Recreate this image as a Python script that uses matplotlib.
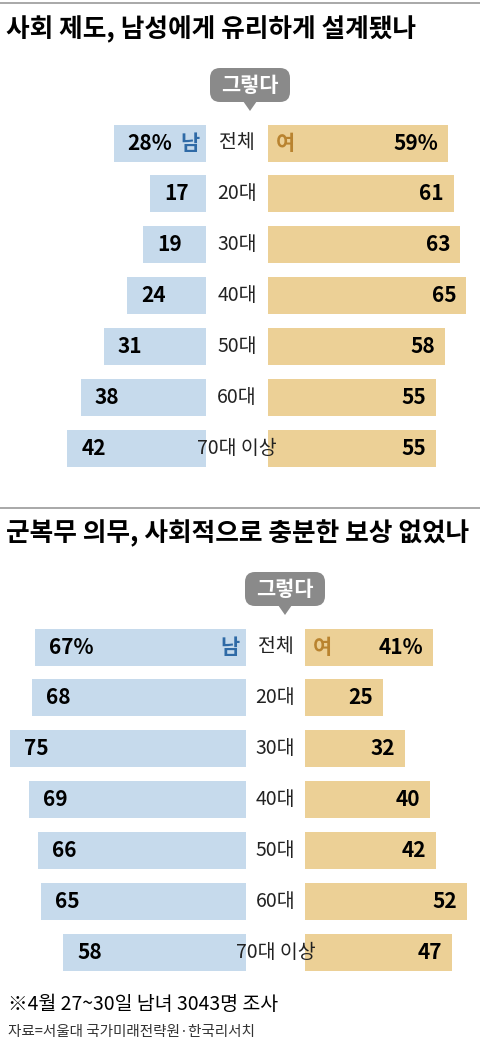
import matplotlib.pyplot as plt
from matplotlib.patches import FancyBboxPatch, Polygon

plt.rcParams['font.family'] = ['Noto Sans CJK KR', 'DejaVu Sans']

groups = ['전체', '20대', '30대', '40대', '50대', '60대', '70대 이상']
title1 = '사회 제도, 남성에게 유리하게 설계됐나'
men1 = [28, 17, 19, 24, 31, 38, 42]
women1 = [59, 61, 63, 65, 58, 55, 55]
title2 = '군복무 의무, 사회적으로 충분한 보상 없었나'
men2 = [67, 68, 75, 69, 66, 65, 58]
women2 = [41, 25, 32, 40, 42, 52, 47]

BLUE = '#c6daec'
TAN = '#ecd096'
MAN_C = '#2f6aa6'
WOMAN_C = '#b9832f'

fig = plt.figure(figsize=(4.8, 10.51), dpi=100)
ax = fig.add_axes([0, 0, 1, 1])
ax.set_xlim(0, 480)
ax.set_ylim(1051, 0)
ax.axis('off')


def bubble(cx, cy):
    w, h = 80, 34
    ax.add_patch(FancyBboxPatch((cx - w / 2, cy - h / 2), w, h,
                                boxstyle='round,pad=0,rounding_size=10',
                                fc='#8a8a8a', ec='none'))
    ax.add_patch(Polygon([(cx - 7, cy + h / 2 - 1), (cx + 7, cy + h / 2 - 1),
                          (cx, cy + h / 2 + 9)], fc='#8a8a8a', ec='none'))
    ax.text(cx, cy, '그렇다', color='white', fontsize=15, fontweight='bold',
            ha='center', va='center')


def panel(title, men, women, y0, lend, rstart, bx, ls, rs):
    ax.text(6, y0, title, fontsize=18.5, fontweight='bold', va='center')
    bubble(bx, y0 + 55)
    ys = [y0 + 113 + 50.9 * i for i in range(len(groups))]
    ax.barh(ys, [-m * ls for m in men], left=lend, height=37, color=BLUE)
    ax.barh(ys, [w * rs for w in women], left=rstart, height=37, color=TAN)
    mid = (lend + rstart) / 2
    for i, (y, g, m, w) in enumerate(zip(ys, groups, men, women)):
        ax.text(mid, y, g, fontsize=14, ha='center', va='center', color='#222222')
        mt = f'{m}%' if i == 0 else str(m)
        wt = f'{w}%' if i == 0 else str(w)
        ax.text(lend - m * ls + 14, y, mt, fontsize=15, fontweight='bold',
                ha='left', va='center')
        ax.text(rstart + w * rs - 10, y, wt, fontsize=15, fontweight='bold',
                ha='right', va='center')
        if i == 0:
            ax.text(lend - 6, y, '남', fontsize=15, fontweight='bold',
                    color=MAN_C, ha='right', va='center')
            ax.text(rstart + 8, y, '여', fontsize=15, fontweight='bold',
                    color=WOMAN_C, ha='left', va='center')


ax.plot([0, 480], [3, 3], color='#999999', lw=1.2)
panel(title1, men1, women1, 30, 206, 268, 250, 3.3, 3.05)
ax.plot([0, 480], [508, 508], color='#999999', lw=1.2)
panel(title2, men2, women2, 534, 246, 305, 285, 3.15, 3.12)

ax.text(8, 1004, '※4월 27~30일 남녀 3043명 조사', fontsize=14, va='center')
ax.text(8, 1032, '자료=서울대 국가미래전략원·한국리서치', fontsize=10.5,
        va='center', color='#333333')

fig.savefig('out.png', dpi=100)
